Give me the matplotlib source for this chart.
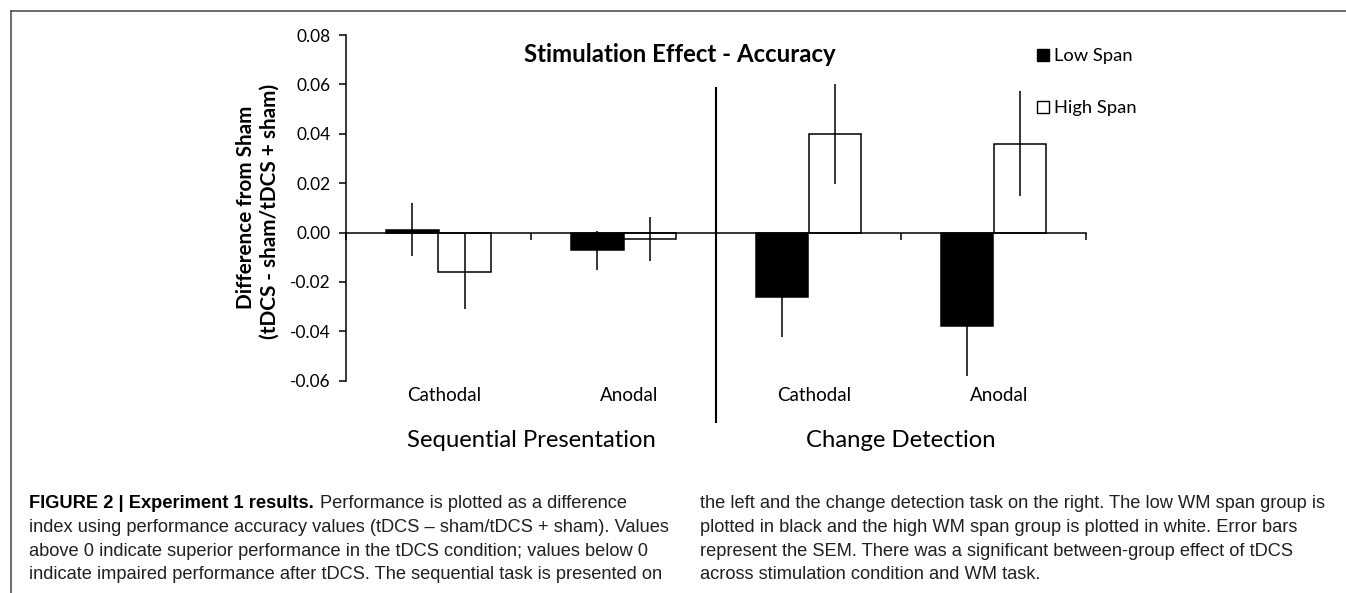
import matplotlib
matplotlib.use('Agg')
import matplotlib.pyplot as plt
import matplotlib.transforms as mtrans
from matplotlib.patches import Patch
from matplotlib.lines import Line2D
import numpy as np

# ---------------- data ----------------
categories = ['Cathodal', 'Anodal', 'Cathodal', 'Anodal']
groups = ['Sequential Presentation', 'Change Detection']
series_labels = ['Low Span', 'High Span']
low_span = [0.0011, -0.0072, -0.0263, -0.0377]
low_err = [0.0108, 0.0079, 0.0161, 0.0204]
high_span = [-0.0159, -0.0026, 0.0398, 0.0359]
high_err = [0.0152, 0.0088, 0.0202, 0.0213]
yticks = [-0.06, -0.04, -0.02, 0.00, 0.02, 0.04, 0.06, 0.08]
title = 'Stimulation Effect - Accuracy'
ylabel_lines = ['Difference from Sham', '(tDCS - sham/tDCS + sham)']

caption_bold = 'FIGURE 2 | Experiment 1 results.'
caption_left = [
    'Performance is plotted as a difference',
    'index using performance accuracy values (tDCS \u2013 sham/tDCS + sham). Values',
    'above 0 indicate superior performance in the tDCS condition; values below 0',
    'indicate impaired performance after tDCS. The sequential task is presented on',
]
caption_right = [
    'the left and the change detection task on the right. The low WM span group is',
    'plotted in black and the high WM span group is plotted in white. Error bars',
    'represent the SEM. There was a significant between-group effect of tDCS',
    'across stimulation condition and WM task.',
]

# ---------------- figure ----------------
plt.rcParams['font.family'] = ['Lato', 'DejaVu Sans']
W, H = 1346, 593
fig = plt.figure(figsize=(W / 100, H / 100), dpi=100)
fig.patch.set_facecolor('white')


def fx(px):
    return px / W


def fy(py):
    return 1 - py / H


r = fig.canvas.get_renderer()


def fit(s, target, **kw):
    t = fig.text(0, 0, s, fontsize=20, **kw)
    w = t.get_window_extent(r).width
    t.remove()
    return 20 * target / w


title_fs = fit(title, 311, fontweight='bold')
tick_fs = fit('0.08', 34)
cat_fs = fit('Cathodal', 74)
grp_fs = fit('Change Detection', 191)
ylab_fs = fit(ylabel_lines[1], 256, fontweight='bold')
leg_fs = fit('High Span', 83)
cap_fs = fit(caption_left[1], 639, family='Liberation Sans')

ax = fig.add_axes([fx(346), fy(380.7), fx(1086) - fx(346), fy(35) - fy(380.7)])
x = np.arange(len(categories))
bw = 0.285
lw = 1.1
ax.bar(x - bw / 2, low_span, bw, color='black', edgecolor='black', linewidth=lw, zorder=2)
ax.bar(x + bw / 2, high_span, bw, color='white', edgecolor='black', linewidth=lw, zorder=2)
ax.errorbar(x - bw / 2, low_span, yerr=low_err, fmt='none', ecolor='black',
            elinewidth=lw, capsize=0, zorder=3)
ax.errorbar(x + bw / 2, high_span, yerr=high_err, fmt='none', ecolor='black',
            elinewidth=lw, capsize=0, zorder=3)

ax.set_xlim(-0.5, len(categories) - 0.5)
ax.set_ylim(yticks[0], yticks[-1])
ax.set_yticks(yticks)
ax.set_yticklabels([f'{v:.2f}' for v in yticks])
ax.set_xticks(np.arange(len(categories) + 1) - 0.5)
ax.spines['bottom'].set_position(('data', 0))
ax.spines['top'].set_visible(False)
ax.spines['right'].set_visible(False)
for s in ('left', 'bottom'):
    ax.spines[s].set_linewidth(lw)
ax.tick_params(axis='x', direction='out', length=5, width=lw, labelbottom=False)
ax.tick_params(axis='y', direction='out', length=5, width=lw, pad=6, labelsize=tick_fs)
ax.patch.set_alpha(0)

blend = mtrans.blended_transform_factory(ax.transData, fig.transFigure)

# divider between tasks
ax.plot([1.5, 1.5], [fy(88.3), fy(421.7)], transform=blend, color='black',
        lw=1.5, clip_on=False, zorder=4)

# category labels
for i, c in enumerate(categories):
    ax.annotate(c, xy=(i, fy(400.7)), xycoords=blend, xytext=(4, 0),
                textcoords='offset points', ha='center', va='baseline',
                fontsize=cat_fs, annotation_clip=False)

# group labels
per = len(categories) // len(groups)
for g, name in enumerate(groups):
    cx = np.mean(x[g * per:(g + 1) * per])
    ax.text(cx, fy(446.7), name, transform=blend, ha='center', va='baseline',
            fontsize=grp_fs, clip_on=False)

# title
fig.text(fx(679.5), fy(61.7), title, ha='center', va='baseline',
         fontweight='bold', fontsize=title_fs)

# y label (two lines)
fig.text(fx(245.5), fy(207), ylabel_lines[0], rotation=90, rotation_mode='anchor',
         ha='center', va='center', fontweight='bold', fontsize=ylab_fs)
fig.text(fx(270), fy(211), ylabel_lines[1], rotation=90, rotation_mode='anchor',
         ha='center', va='center', fontweight='bold', fontsize=ylab_fs)

# legend
handles = [Patch(facecolor='black', edgecolor='black', linewidth=1.0),
           Patch(facecolor='white', edgecolor='black', linewidth=1.0)]
fig.legend(handles, series_labels, loc='upper left',
           bbox_to_anchor=(fx(1036.7), fy(48.5)), frameon=False, fontsize=leg_fs,
           handlelength=0.65, handleheight=0.65, handletextpad=0.27,
           labelspacing=1.95, borderpad=0, borderaxespad=0)

# page frame
frame_c = '#444444'
fig.add_artist(Line2D([fx(11.5), 1.0], [fy(11), fy(11)], color=frame_c, lw=1.1))
fig.add_artist(Line2D([fx(11.5), fx(11.5)], [fy(11), 0.0], color=frame_c, lw=1.1))

# caption
cap_c = '#231f20'
baselines = [508.3, 531.7, 555.7, 579.3]
tb = fig.text(fx(29.3), fy(baselines[0]), caption_bold, family='Liberation Sans',
              fontweight='bold', fontsize=cap_fs, color='black', va='baseline', ha='left')
bw_px = tb.get_window_extent(r).width
fig.text(fx(29.3 + bw_px + 5.7), fy(baselines[0]), caption_left[0], family='Liberation Sans',
         fontsize=cap_fs, color=cap_c, va='baseline', ha='left')
for i, line in enumerate(caption_left[1:], start=1):
    fig.text(fx(29.3), fy(baselines[i]), line, family='Liberation Sans',
             fontsize=cap_fs, color=cap_c, va='baseline', ha='left')
for i, line in enumerate(caption_right):
    fig.text(fx(700), fy(baselines[i]), line, family='Liberation Sans',
             fontsize=cap_fs, color=cap_c, va='baseline', ha='left')

fig.savefig('out.png', dpi=100)
